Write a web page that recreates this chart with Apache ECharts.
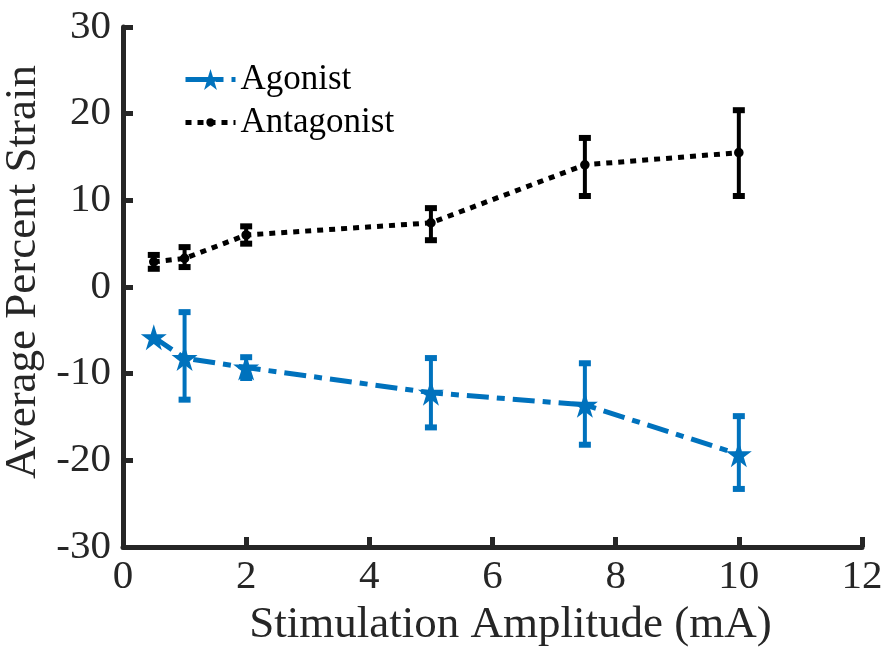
<!DOCTYPE html>
<html>
<head>
<meta charset="utf-8">
<script src="https://cdn.jsdelivr.net/npm/echarts@6/dist/echarts.min.js"></script>
<style>
  html, body { margin: 0; padding: 0; background: #fff; }
  #chart { width: 885px; height: 656px; }
</style>
</head>
<body>
<div id="chart"></div>
<script>
// stimulation amplitudes (mA)
var amplitude = [0.5, 1, 2, 5, 7.5, 10]
// agonist strain, with error bar bounds
var agonist = [-5.8, -8.2, -9.3, -12.2, -13.6, -19.3]
var agonistHigh = [-5.8, -2.9, -8.1, -8.2, -8.8, -14.9]
var agonistLow = [-5.8, -13.0, -10.5, -16.2, -18.2, -23.3]
// antagonist strain, with error bar bounds
var antagonist = [2.9, 3.3, 6.0, 7.4, 14.1, 15.5]
var antagonistHigh = [3.7, 4.6, 7.0, 9.1, 17.2, 20.4]
var antagonistLow = [2.1, 2.3, 5.0, 5.4, 10.5, 10.5]

var blue = '#0072BD'
var font = 'Liberation Serif'
var star = 'path://M50,0 L61.2,34.5 L97.6,34.5 L68.2,55.9 L79.4,90.5 L50,69.1 L20.6,90.5 L31.8,55.9 L2.4,34.5 L38.8,34.5 Z'
// small dot inside a larger box, so legend and series keep it small
var dot = 'path://M0,0 M100,100 M50,30 A20,20 0 1 1 49.9,30 Z'

function pairs(xs, ys) {
  var out = []
  for (var i = 0; i < xs.length; i++) out.push([xs[i], ys[i]])
  return out
}

function errorData(xs, lo, hi) {
  var out = []
  for (var i = 0; i < xs.length; i++) out.push([xs[i], lo[i], hi[i]])
  return out
}

function errorBars(color) {
  return function(params, api) {
    var x = api.value(0)
    var lo = api.coord([x, api.value(1)])
    var hi = api.coord([x, api.value(2)])
    if (Math.abs(lo[1] - hi[1]) < 1) return null
    var w = 6
    return {
      type: 'group',
      children: [
        { type: 'line', shape: { x1: lo[0], y1: lo[1], x2: hi[0], y2: hi[1] }, style: { stroke: color, lineWidth: 4 } },
        { type: 'line', shape: { x1: lo[0] - w, y1: lo[1], x2: lo[0] + w, y2: lo[1] }, style: { stroke: color, lineWidth: 6 } },
        { type: 'line', shape: { x1: hi[0] - w, y1: hi[1], x2: hi[0] + w, y2: hi[1] }, style: { stroke: color, lineWidth: 6 } }
      ]
    }
  }
}

var chart = echarts.init(document.getElementById('chart'))
var axisColor = '#262626'
var option = {
  animation: false,
  grid: { left: 123, right: 23, top: 27, bottom: 109, outerBoundsMode: 'none' },
  legend: {
    orient: 'vertical',
    left: 178,
    top: 57,
    itemWidth: 50,
    itemHeight: 26,
    itemGap: 8,
    lineStyle: { width: 5 },
    textStyle: { fontFamily: font, fontSize: 35, color: '#000' },
    data: ['Agonist', 'Antagonist']
  },
  xAxis: {
    type: 'value',
    min: 0,
    max: 12,
    interval: 2,
    name: 'Stimulation Amplitude (mA)',
    nameLocation: 'middle',
    nameGap: 52,
    nameTextStyle: { fontFamily: font, fontSize: 45, color: '#262626', padding: [0, 0, 0, 36] },
    axisLine: { onZero: false, lineStyle: { color: axisColor, width: 5 } },
    axisTick: { inside: true, length: 10, lineStyle: { color: axisColor, width: 5 } },
    axisLabel: { fontFamily: font, fontSize: 41, color: '#262626', margin: 10 },
    splitLine: { show: false }
  },
  yAxis: {
    type: 'value',
    min: -30,
    max: 30,
    interval: 10,
    name: 'Average Percent Strain',
    nameLocation: 'middle',
    nameGap: 72,
    nameTextStyle: { fontFamily: font, fontSize: 45, color: '#262626', padding: [0, 0, 0, 30] },
    axisLine: { show: true, onZero: false, lineStyle: { color: axisColor, width: 5 } },
    axisTick: { show: true, inside: true, length: 10, lineStyle: { color: axisColor, width: 5 } },
    axisLabel: { fontFamily: font, fontSize: 41, color: '#262626', margin: 12 },
    splitLine: { show: false }
  },
  series: [
    {
      name: 'Agonist',
      type: 'line',
      data: pairs(amplitude, agonist),
      symbol: star,
      symbolSize: 26,
      itemStyle: { color: blue },
      lineStyle: { color: blue, width: 5, type: [22, 8, 8, 8] },
      z: 3
    },
    {
      name: 'Antagonist',
      type: 'line',
      data: pairs(amplitude, antagonist),
      symbol: dot,
      symbolSize: 24,
      itemStyle: { color: '#000' },
      lineStyle: { color: '#000', width: 5, type: [6, 6] },
      z: 3
    },
    {
      type: 'custom',
      renderItem: errorBars(blue),
      data: errorData(amplitude, agonistLow, agonistHigh),
      encode: { x: 0, y: [1, 2] },
      z: 4
    },
    {
      type: 'custom',
      renderItem: errorBars('#000'),
      data: errorData(amplitude, antagonistLow, antagonistHigh),
      encode: { x: 0, y: [1, 2] },
      z: 4
    }
  ]
}
chart.setOption(option)
</script>
</body>
</html>
